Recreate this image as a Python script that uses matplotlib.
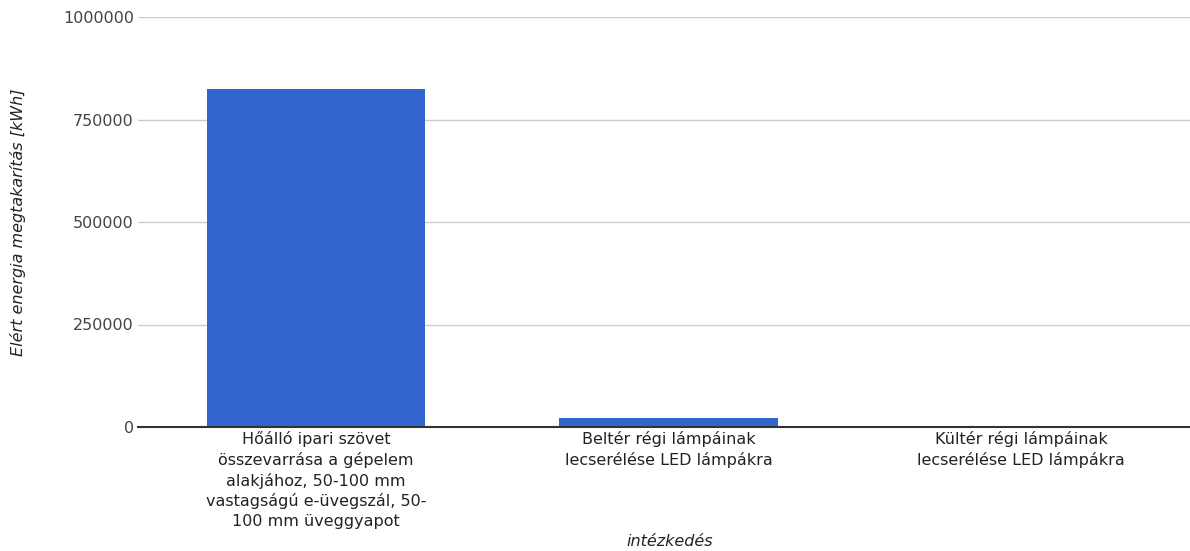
import matplotlib
matplotlib.use("Agg")
import matplotlib.pyplot as plt
from matplotlib.ticker import FixedLocator

categories = [
    "Hőálló ipari szövet\nösszevarrása a gépelem\nalakjához, 50-100 mm\nvastagságú e-üvegszál, 50-\n100 mm üveggyapot",
    "Beltér régi lámpáinak\nlecserélése LED lámpákra",
    "Kültér régi lámpáinak\nlecserélése LED lámpákra",
]
savings = [824000, 22000, 0]
yticks = [0, 250000, 500000, 750000, 1000000]

plt.rcParams.update({
    "font.family": "DejaVu Sans",
    "font.size": 11.5,
})

fig = plt.figure(figsize=(11.9, 5.51), dpi=100)
ax = fig.add_axes([138 / 1190, 1 - 427 / 551, 1 - 138 / 1190, 410 / 551])

x = range(len(categories))
ax.bar(x, savings, width=0.62, color="#3366cc", zorder=2)

ax.set_xlim(-0.505, 2.479)
ax.set_ylim(0, 1000000)
ax.yaxis.set_major_locator(FixedLocator(yticks))
ax.set_yticklabels([str(v) for v in yticks])
ax.grid(axis="y", color="#cccccc", lw=1.0, zorder=0)
ax.set_axisbelow(True)

for s in ["top", "right", "left"]:
    ax.spines[s].set_visible(False)
ax.spines["bottom"].set_color("#333333")
ax.spines["bottom"].set_linewidth(1.5)
ax.spines["bottom"].set_zorder(3)

ax.set_xticks(list(x))
ax.set_xticklabels(categories, color="#222222", linespacing=1.36)
ax.tick_params(axis="x", length=0, pad=3)
ax.tick_params(axis="y", length=0, pad=3, colors="#444444")

ax.set_ylabel("Elért energia megtakarítás [kWh]", style="italic",
              color="#222222", va="center")
ax.set_xlabel("intézkedés", style="italic", color="#222222", va="center")
ax.yaxis.set_label_coords(-120 / 1052, 0.5)
ax.xaxis.set_label_coords((670 - 138) / 1052, -115 / 410)

fig.savefig("out.png", dpi=100)
